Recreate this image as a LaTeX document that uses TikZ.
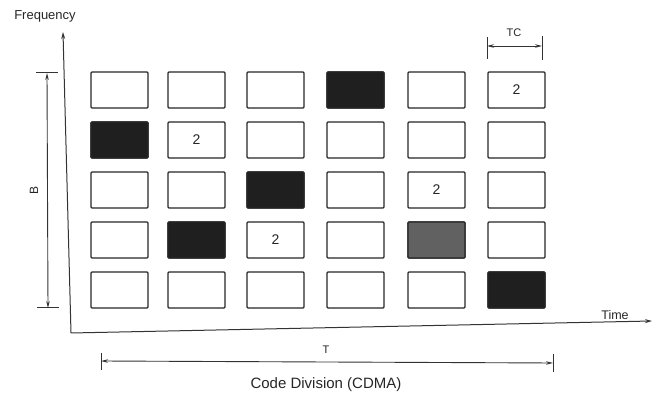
\documentclass[tikz,border=0pt]{standalone}
\usepackage{fontspec}
\setmainfont{Liberation Sans}
\usetikzlibrary{arrows.meta}
\begin{document}
\begin{tikzpicture}[x=1pt,y=-1pt,
  cell/.style={draw=black!85,line width=1.4pt,rounded corners=1pt,minimum width=57pt,minimum height=36pt,inner sep=0pt},
  dark/.style={cell,fill=black!88},
  grey/.style={cell,fill=black!62},
  num/.style={inner sep=0pt,text=black!85,font=\fontsize{14}{14}\selectfont},
  axis/.style={line width=1pt,draw=black!80,-{Stealth[length=7pt,width=4pt]}},
  dim/.style={line width=0.9pt,draw=black!80,{Stealth[length=7pt,width=3.5pt]}-{Stealth[length=7pt,width=3.5pt]}},
  bar/.style={line width=1pt,draw=black!80},
  lbl/.style={inner sep=0pt,text=black!85}]
\useasboundingbox (0,0) rectangle (654,398);
% axes
\coordinate (o) at (71,333);
\coordinate (ytop) at (63,32);
\coordinate (xend) at (652,321);
\draw[axis] (o) -- (ytop);
\draw[axis] (o) -- (xend);
\node[lbl,font=\fontsize{13}{13}\selectfont] (freq) at (45,16) {Frequency};
\node[lbl,font=\fontsize{12.5}{12.5}\selectfont] (time) at (615,315) {Time};
% grid of cells
\foreach \c/\x in {1/119.5,2/196.5,3/275.5,4/355.5,5/436.5,6/516.5}{
  \foreach \r/\y in {1/90,2/140,3/190,4/240,5/290}{
    \node[cell] (c\r\c) at (\x,\y) {};
  }
}
\node[dark] at (c14) {};
\node[dark] at (c21) {};
\node[dark] at (c33) {};
\node[dark] at (c42) {};
\node[grey] at (c45) {};
\node[dark] at (c56) {};
\node[num] at (c16) {2};
\node[num] at (c22) {2};
\node[num] at (c35) {2};
\node[num] at (c43) {2};
% B dimension
\coordinate (bt1) at (36,73);
\coordinate (bt2) at (58,73);
\coordinate (bb1) at (37,308);
\coordinate (bb2) at (59,308);
\coordinate (bt) at (47,73);
\coordinate (bb) at (48,308);
\draw[bar] (bt1) -- (bt2);
\draw[bar] (bb1) -- (bb2);
\draw[dim] (bt) -- (bb);
\node[lbl,rotate=90,font=\fontsize{12}{12}\selectfont] (blbl) at (34,190) {B};
% TC dimension
\coordinate (tcl1) at (487,37);
\coordinate (tcl2) at (487,59);
\coordinate (tcr1) at (542,36);
\coordinate (tcr2) at (542,60);
\coordinate (tcl) at (487,46);
\coordinate (tcr) at (542,46);
\draw[bar] (tcl1) -- (tcl2);
\draw[bar] (tcr1) -- (tcr2);
\draw[dim] (tcl) -- (tcr);
\node[lbl,font=\fontsize{11}{11}\selectfont] (tclbl) at (514,33) {TC};
% T dimension
\coordinate (tl1) at (101,353);
\coordinate (tl2) at (101,370);
\coordinate (tr1) at (553,354);
\coordinate (tr2) at (553,372);
\coordinate (tl) at (101,361);
\coordinate (tr) at (553,363);
\draw[bar] (tl1) -- (tl2);
\draw[bar] (tr1) -- (tr2);
\draw[dim] (tl) -- (tr);
\node[lbl,font=\fontsize{11}{11}\selectfont] (tlbl) at (326,350) {T};
\node[lbl,font=\fontsize{15}{15}\selectfont] (title) at (326,385) {Code Division (CDMA)};
\end{tikzpicture}
\end{document}
